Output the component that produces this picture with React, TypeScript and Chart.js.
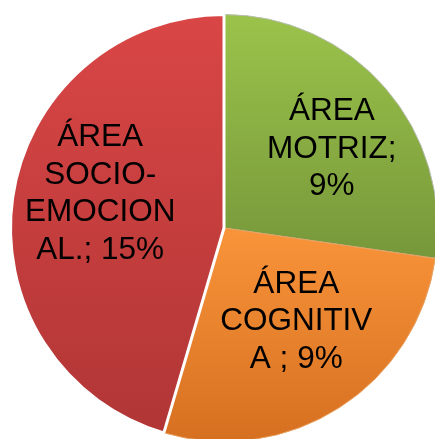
import React, { useEffect, useRef } from "react";
import { Chart, registerables } from "chart.js";

Chart.register(...registerables);

const categories = ["ÁREA MOTRIZ", "ÁREA COGNITIVA", "ÁREA SOCIO-EMOCIONAL."];
const values = [9, 9, 15];
const labelLines = [
  ["ÁREA", "MOTRIZ;", "9%"],
  ["ÁREA", "COGNITIV", "A ; 9%"],
  ["ÁREA", "SOCIO-", "EMOCION", "AL.; 15%"],
];

// styling
const gradientStops: [number, string][][] = [
  [[0, "#9cc44b"], [0.55, "#78993b"], [1, "#6f8f36"]],
  [[0.5, "#f9943a"], [1, "#d56f20"]],
  [[0, "#da4646"], [1, "#b03535"]],
];
const borderColors = ["#b8bdb0", "#e8a060", "#ffffff"];
const borderWidths = [1, 1, 3];
const labelOffsets = [
  [11, 5],
  [3, -14],
  [3, -16],
];

const labelPlugin = {
  id: "sliceLabels",
  afterDatasetsDraw(chart: any) {
    const ctx = chart.ctx;
    const meta = chart.getDatasetMeta(0);
    ctx.save();
    ctx.fillStyle = "#000000";
    ctx.font = "31.5px 'Liberation Sans', Arial, sans-serif";
    ctx.textAlign = "center";
    ctx.textBaseline = "middle";
    const lineH = 37.5;
    meta.data.forEach((arc: any, i: number) => {
      const { x, y, startAngle, endAngle, outerRadius } = arc.getProps(
        ["x", "y", "startAngle", "endAngle", "outerRadius"],
        true
      );
      const mid = (startAngle + endAngle) / 2;
      const r = outerRadius * 0.6;
      const cx = x + Math.cos(mid) * r + labelOffsets[i][0];
      const cy = y + Math.sin(mid) * r + labelOffsets[i][1];
      const lines = labelLines[i];
      const top = cy - ((lines.length - 1) * lineH) / 2;
      lines.forEach((ln, j) => ctx.fillText(ln, cx, top + j * lineH));
    });
    ctx.restore();
  },
};

export default function App() {
  const ref = useRef<HTMLCanvasElement>(null);
  useEffect(() => {
    document.body.style.margin = "0";
    const canvas = ref.current!;
    const chart = new Chart(canvas, {
      type: "pie",
      data: {
        labels: categories,
        datasets: [
          {
            data: values,
            backgroundColor: (c: any) => {
              const area = c.chart.chartArea;
              const i = c.dataIndex;
              if (!area) return gradientStops[i][0][1];
              const g = c.chart.ctx.createLinearGradient(0, area.top, 0, area.bottom);
              gradientStops[i].forEach(([o, col]) => g.addColorStop(o, col));
              return g;
            },
            borderColor: borderColors,
            borderWidth: borderWidths,
          },
        ],
      },
      options: {
        responsive: false,
        animation: false,
        layout: { padding: 9 },
        plugins: {
          legend: { display: false },
          tooltip: { enabled: false },
        },
      },
      plugins: [labelPlugin],
    });
    return () => chart.destroy();
  }, []);
  return (
    <div style={{ width: 435, height: 439, overflow: "hidden", background: "#fff" }}>
      <canvas ref={ref} width={448} height={456} style={{ display: "block" }} />
    </div>
  );
}
